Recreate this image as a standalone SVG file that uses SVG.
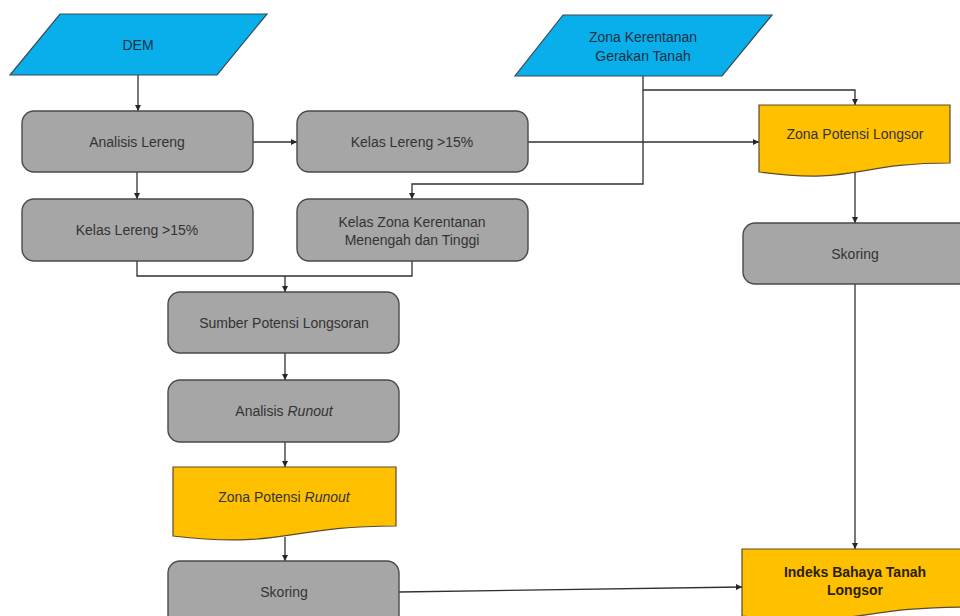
<svg xmlns="http://www.w3.org/2000/svg" width="960" height="616" viewBox="0 0 960 616">
  <defs>
    <marker id="arr" viewBox="0 0 6 6" refX="6" refY="3" markerWidth="6" markerHeight="6" orient="auto" markerUnits="userSpaceOnUse">
      <path d="M0,0 L6,3 L0,6 Z" fill="#262626"/>
    </marker>
    <style>
      .inp { fill: #08AFEA; stroke: #3a4a55; stroke-width: 1.2; }
      .proc { fill: #A6A6A6; stroke: #4a4a4a; stroke-width: 1.4; }
      .doc { fill: #FFC000; stroke: #5a4a30; stroke-width: 1.2; }
      .t { font-family: "Liberation Sans", Arial, sans-serif; font-size: 14px; fill: #333333; text-anchor: middle; }
      .tb { fill: #1d2f45; }
      .bold { font-weight: bold; fill: #2a2000; }
      .c { fill: none; stroke: #303030; stroke-width: 1.3; }
    </style>
  </defs>
  <rect width="960" height="616" fill="#FFFFFF"/>

  <!-- connectors -->
  <g id="connectors">
    <path class="c" d="M138,75 V111" marker-end="url(#arr)"/>
    <path class="c" d="M253,142 H297" marker-end="url(#arr)"/>
    <path class="c" d="M137,172 V199" marker-end="url(#arr)"/>
    <path class="c" d="M528,142 H759" marker-end="url(#arr)"/>
    <path class="c" d="M643,76 V184 H412 V199" marker-end="url(#arr)"/>
    <path class="c" d="M643,90 H855 V105" marker-end="url(#arr)"/>
    <path class="c" d="M137,261 V276 H412 V261"/>
    <path class="c" d="M285,276 V292" marker-end="url(#arr)"/>
    <path class="c" d="M285,353 V380" marker-end="url(#arr)"/>
    <path class="c" d="M285,442 V467" marker-end="url(#arr)"/>
    <path class="c" d="M285,537 V561" marker-end="url(#arr)"/>
    <path class="c" d="M855,170 V223" marker-end="url(#arr)"/>
    <path class="c" d="M855,284 V549" marker-end="url(#arr)"/>
    <path class="c" d="M399,592 L742,587" marker-end="url(#arr)"/>
  </g>

  <!-- input data -->
  <g id="dem">
    <polygon class="inp" points="60,14 267,14 217,75 10,75"/>
    <text class="t tb" x="138" y="50">DEM</text>
  </g>
  <g id="zona-kerentanan">
    <polygon class="inp" points="563,15 772,15 722,76 515,76"/>
    <text class="t tb" x="643" y="42">Zona Kerentanan</text>
    <text class="t tb" x="643" y="61">Gerakan Tanah</text>
  </g>

  <!-- processes -->
  <g id="analisis-lereng">
    <rect class="proc" x="22" y="111" width="231" height="61" rx="12"/>
    <text class="t" x="137" y="147">Analisis Lereng</text>
  </g>
  <g id="kelas-lereng-a">
    <rect class="proc" x="297" y="111" width="231" height="61" rx="12"/>
    <text class="t" x="412" y="147">Kelas Lereng &gt;15%</text>
  </g>
  <g id="kelas-lereng-b">
    <rect class="proc" x="22" y="199" width="231" height="62" rx="12"/>
    <text class="t" x="137" y="235">Kelas Lereng &gt;15%</text>
  </g>
  <g id="kelas-zona">
    <rect class="proc" x="297" y="199" width="231" height="62" rx="12"/>
    <text class="t" x="412" y="227">Kelas Zona Kerentanan</text>
    <text class="t" x="412" y="245">Menengah dan Tinggi</text>
  </g>
  <g id="sumber">
    <rect class="proc" x="168" y="292" width="231" height="61" rx="12"/>
    <text class="t" x="284" y="328">Sumber Potensi Longsoran</text>
  </g>
  <g id="analisis-runout">
    <rect class="proc" x="168" y="380" width="231" height="62" rx="12"/>
    <text class="t" x="284" y="416">Analisis <tspan font-style="italic">Runout</tspan></text>
  </g>
  <g id="zona-runout">
    <path class="doc" d="M173,467 H396 V526 C284.5,526 284.5,549 173,536 Z"/>
    <text class="t" x="284" y="502">Zona Potensi <tspan font-style="italic">Runout</tspan></text>
  </g>
  <g id="skoring-a">
    <rect class="proc" x="168" y="561" width="231" height="70" rx="12"/>
    <text class="t" x="284" y="597">Skoring</text>
  </g>
  <g id="zona-longsor">
    <path class="doc" d="M759,105 H950 V163 C854.5,163 854.5,185 759,172 Z"/>
    <text class="t" x="855" y="139">Zona Potensi Longsor</text>
  </g>
  <g id="skoring-b">
    <rect class="proc" x="743" y="223" width="240" height="61" rx="12"/>
    <text class="t" x="855" y="259">Skoring</text>
  </g>
  <g id="indeks">
    <path class="doc" d="M742,549 H968 V607 C855,607 855,629 742,616 Z"/>
    <text class="t bold" x="855" y="577">Indeks Bahaya Tanah</text>
    <text class="t bold" x="855" y="595">Longsor</text>
  </g>
</svg>
